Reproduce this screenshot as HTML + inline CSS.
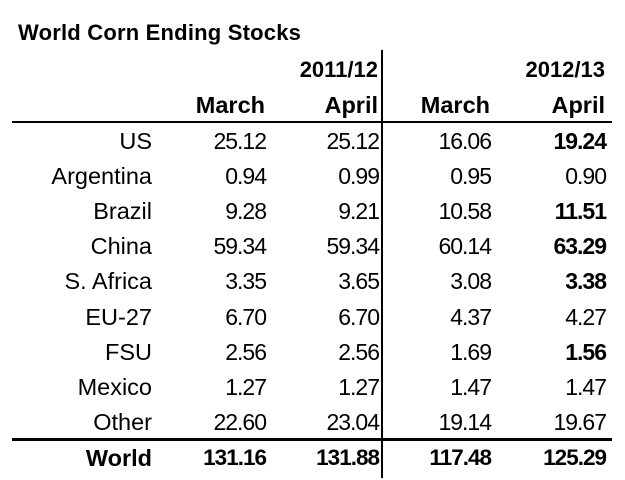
<!DOCTYPE html>
<html><head><style>
body{margin:0;width:625px;height:480px;background:#fff;position:relative;font-family:"Liberation Sans",sans-serif;color:#000;overflow:hidden}
.t{position:absolute;white-space:nowrap;font-size:21px;line-height:24px}
.r{text-align:right}
.b{font-weight:bold}
.ln{position:absolute;background:#000}
</style></head><body>
<div class="t b" style="left:18px;top:21px;font-size:22px;letter-spacing:0.2px">World Corn Ending Stocks</div>
<div class="ln" style="left:381px;top:50px;width:2px;height:428px"></div>
<div class="ln" style="left:12px;top:121px;width:600px;height:2px"></div>
<div class="ln" style="left:12px;top:438px;width:600px;height:3px"></div>
<script>
var cols=[152,265,378,490,605];
function put(txt,right,cy,bold,fs,ls){var d=document.createElement('div');d.className='t r'+(bold?' b':'');d.style.right=(625-right)+'px';d.style.top=(cy-12)+'px';if(fs)d.style.fontSize=fs+'px';if(ls)d.style.letterSpacing=ls+'px';d.textContent=txt;document.body.appendChild(d);}
put('2011/12',378,70,1,22);put('2012/13',605,70,1,22);
put('March',265,105,1,23.5);put('April',378,105,1,23.5);put('March',490,105,1,23.5);put('April',605,105,1,23.5);
var data=[
['US','25.12','25.12','16.06','19.24',1],
['Argentina','0.94','0.99','0.95','0.90',0],
['Brazil','9.28','9.21','10.58','11.51',1],
['China','59.34','59.34','60.14','63.29',1],
['S. Africa','3.35','3.65','3.08','3.38',1],
['EU-27','6.70','6.70','4.37','4.27',0],
['FSU','2.56','2.56','1.69','1.56',1],
['Mexico','1.27','1.27','1.47','1.47',0],
['Other','22.60','23.04','19.14','19.67',0]];
data.forEach(function(r,i){var cy=141+i*35.1;for(var j=0;j<5;j++){if(j==0)put(r[j],cols[j],cy,0,23.5);else put(r[j],cols[j]+1,cy,j==4&&r[5],23,-1);}});
['World','131.16','131.88','117.48','125.29'].forEach(function(s,j){if(j==0)put(s,cols[j],458,1,23.5);else put(s,cols[j]+1,458,1,22.5,-1);});
</script>
</body></html>
